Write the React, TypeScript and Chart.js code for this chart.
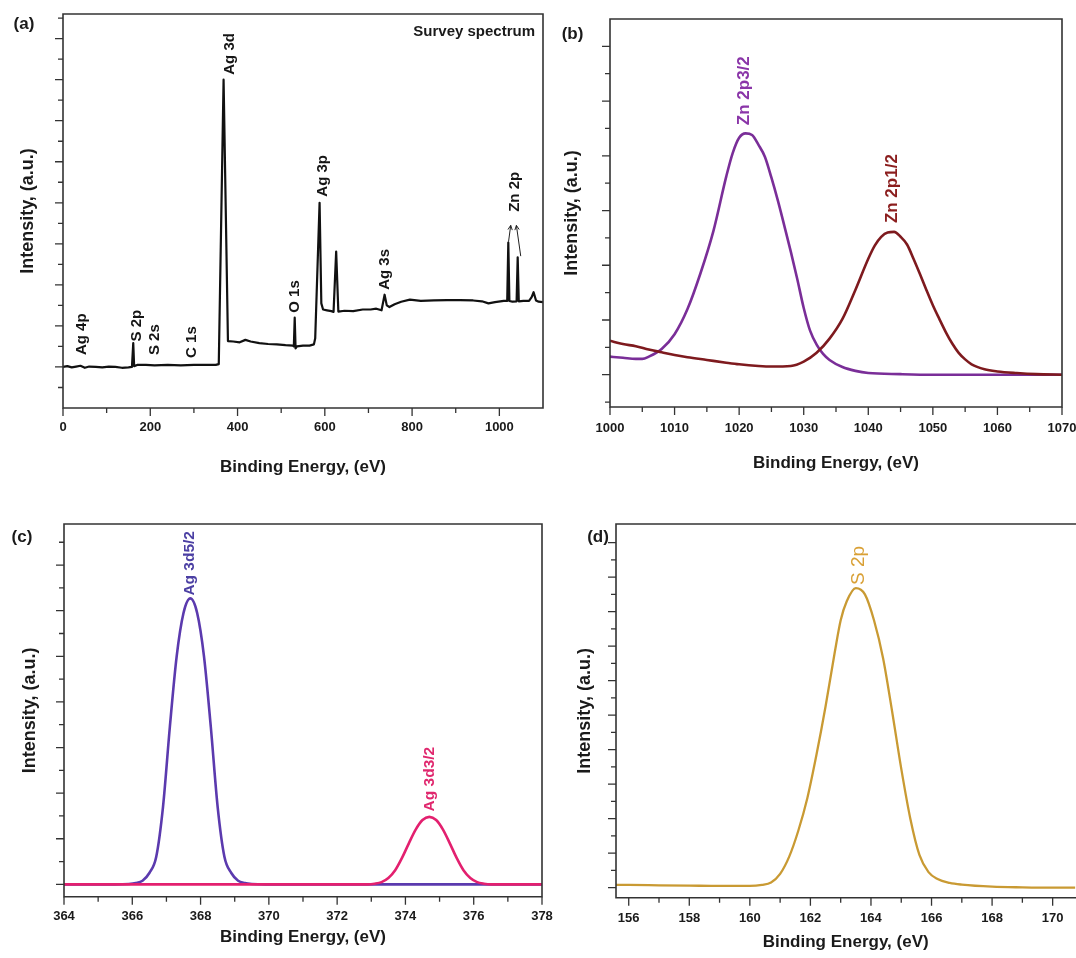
import React, { useEffect, useRef } from "react";
import { Chart, registerables } from "chart.js";

Chart.register(...registerables);

const FONT = "'Liberation Sans', Arial, Helvetica, sans-serif";
const INK = "#1a1a1a";
const AXIS = "#333333";

// ---------------- (a) survey spectrum ----------------
const surveyEnergy = [0, 10, 20, 30, 40, 50, 60, 75, 90, 105, 120, 135, 150, 158, 161, 163, 170, 190, 210, 240, 270, 300, 330, 350, 357, 368, 378, 390, 405, 418, 430, 450, 470, 490, 510, 527, 529, 531, 533, 536, 550, 565, 575, 578, 588, 592, 596, 605, 615, 620, 626, 631, 645, 665, 687, 705, 718, 730, 737, 742, 748, 760, 775, 795, 820, 850, 880, 910, 940, 960, 975, 990, 1010, 1018, 1020.5, 1023, 1030, 1039.5, 1042, 1044.5, 1055, 1068, 1074, 1078.5, 1084, 1090, 1100];
const surveyIntensity = [1.0, 1.02, 0.99, 1.01, 1.03, 0.98, 1.01, 1.0, 0.99, 1.01, 1.0, 0.98, 0.99, 1.0, 1.58, 1.02, 1.05, 1.05, 1.04, 1.05, 1.04, 1.05, 1.05, 1.05, 1.07, 8.0, 1.63, 1.62, 1.6, 1.66, 1.62, 1.58, 1.56, 1.55, 1.53, 1.52, 1.5, 2.2, 1.45, 1.5, 1.52, 1.52, 1.55, 1.7, 5.0, 2.55, 2.4, 2.38, 2.36, 2.34, 3.81, 2.35, 2.37, 2.36, 2.4, 2.4, 2.42, 2.38, 2.76, 2.5, 2.46, 2.53, 2.59, 2.64, 2.61, 2.62, 2.63, 2.63, 2.62, 2.6, 2.55, 2.58, 2.61, 2.61, 4.03, 2.61, 2.59, 2.6, 3.67, 2.6, 2.61, 2.61, 2.7, 2.82, 2.62, 2.59, 2.58];
const surveyXTicks = [0, 200, 400, 600, 800, 1000];
const surveyXMinor = [100, 300, 500, 700, 900];
const surveyYTicks = [1, 2, 3, 4, 5, 6, 7, 8, 9];
const surveyYMinor = [0.5, 1.5, 2.5, 3.5, 4.5, 5.5, 6.5, 7.5, 8.5, 9.5];
const surveyPeakNames = ["Ag 4p", "S 2p", "S 2s", "C 1s", "Ag 3d", "O 1s", "Ag 3p", "Ag 3s", "Zn 2p"];
const surveyPeakX = [43, 169, 210, 295, 382, 531, 595, 737, 1035];
const surveyPeakY = [1.29, 1.62, 1.29, 1.22, 8.12, 2.32, 5.15, 2.88, 4.78];
const znArrowFromX = [1021, 1049];
const znArrowFromY = [4.05, 3.7];
const znArrowToX = [1026, 1039];
const znArrowToY = [4.45, 4.45];

// ---------------- (b) Zn 2p ----------------
const zn2p3Energy = [1000, 1002, 1004, 1005, 1006, 1008, 1010, 1012, 1014, 1016, 1018, 1019, 1020, 1021, 1022, 1023, 1024, 1025, 1026, 1027, 1028, 1029, 1030, 1031, 1032, 1033, 1034, 1036, 1038, 1040, 1045, 1050, 1060, 1070];
const zn2p3Intensity = [0.33, 0.31, 0.29, 0.29, 0.33, 0.47, 0.74, 1.2, 1.85, 2.62, 3.62, 4.05, 4.33, 4.41, 4.38, 4.2, 3.98, 3.6, 3.18, 2.72, 2.25, 1.75, 1.22, 0.8, 0.55, 0.38, 0.27, 0.14, 0.07, 0.03, 0.01, 0.0, 0.0, 0.0];
const zn2p1Energy = [1000, 1002, 1004, 1006, 1008, 1010, 1012, 1015, 1018, 1020, 1023, 1025, 1028, 1030, 1032, 1034, 1036, 1038, 1040, 1041, 1042, 1043, 1044, 1045, 1046, 1047, 1048, 1049, 1050, 1051, 1052, 1053, 1054, 1055, 1056, 1058, 1060, 1063, 1066, 1070];
const zn2p1Intensity = [0.62, 0.56, 0.52, 0.46, 0.41, 0.36, 0.32, 0.27, 0.22, 0.19, 0.16, 0.15, 0.16, 0.24, 0.4, 0.66, 1.02, 1.55, 2.12, 2.36, 2.52, 2.6, 2.61, 2.52, 2.38, 2.12, 1.84, 1.55, 1.27, 1.02, 0.78, 0.57, 0.4, 0.28, 0.19, 0.1, 0.06, 0.03, 0.01, 0.0];
const znXTicks = [1000, 1010, 1020, 1030, 1040, 1050, 1060, 1070];
const znXMinor = [1005, 1015, 1025, 1035, 1045, 1055, 1065];
const znYTicks = [0, 1, 2, 3, 4, 5, 6];
const znYMinor = [-0.5, 0.5, 1.5, 2.5, 3.5, 4.5, 5.5];
const znPeakNames = ["Zn 2p3/2", "Zn 2p1/2"];
const znPeakX = [1020.75, 1043.7];
const znPeakY = [4.56, 2.77];

// ---------------- (c) Ag 3d ----------------
const ag3d5Energy = [364, 365.5, 365.9, 366.1, 366.3, 366.5, 366.7, 366.9, 367.1, 367.3, 367.5, 367.7, 367.9, 368.1, 368.3, 368.5, 368.7, 368.9, 369.1, 369.3, 369.5, 369.9, 378];
const ag3d5Intensity = [0, 0, 0.01, 0.03, 0.08, 0.25, 0.6, 1.7, 3.45, 5.0, 5.95, 6.27, 5.95, 5.0, 3.45, 1.7, 0.6, 0.25, 0.08, 0.03, 0.01, 0, 0];
const ag3d3Energy = [364, 372.9, 373.1, 373.3, 373.5, 373.7, 373.9, 374.1, 374.3, 374.5, 374.7, 374.9, 375.1, 375.3, 375.5, 375.7, 375.9, 376.1, 376.3, 376.5, 378];
const ag3d3Intensity = [0, 0, 0.015, 0.05, 0.14, 0.31, 0.58, 0.9, 1.2, 1.41, 1.48, 1.41, 1.2, 0.9, 0.58, 0.31, 0.14, 0.05, 0.015, 0, 0];
const agXTicks = [364, 366, 368, 370, 372, 374, 376, 378];
const agXMinor = [365, 367, 369, 371, 373, 375, 377];
const agYTicks = [0, 1, 2, 3, 4, 5, 6, 7];
const agYMinor = [0.5, 1.5, 2.5, 3.5, 4.5, 5.5, 6.5, 7.5];
const agPeakNames = ["Ag 3d5/2", "Ag 3d3/2"];
const agPeakX = [367.68, 374.71];
const agPeakY = [6.33, 1.6];

// ---------------- (d) S 2p ----------------
const s2pEnergy = [155.58, 156, 157, 158, 159, 160, 160.4, 160.7, 161.0, 161.3, 161.6, 161.9, 162.2, 162.5, 162.8, 163.0, 163.2, 163.5, 163.8, 164.1, 164.4, 164.7, 165.0, 165.3, 165.6, 165.9, 166.2, 166.6, 167.0, 168, 169, 170, 170.75];
const s2pIntensity = [0.08, 0.08, 0.07, 0.06, 0.05, 0.05, 0.08, 0.15, 0.4, 0.9, 1.65, 2.6, 3.85, 5.25, 6.8, 7.75, 8.3, 8.68, 8.5, 7.75, 6.65, 5.1, 3.45, 2.0, 0.95, 0.45, 0.25, 0.14, 0.09, 0.03, 0.01, 0.0, 0.0];
const sXTicks = [156, 158, 160, 162, 164, 166, 168, 170];
const sXMinor = [157, 159, 161, 163, 165, 167, 169];
const sYTicks = [0, 1, 2, 3, 4, 5, 6, 7, 8, 9, 10];
const sYMinor = [0.5, 1.5, 2.5, 3.5, 4.5, 5.5, 6.5, 7.5, 8.5, 9.5];
const sPeakNames = ["S 2p"];
const sPeakX = [163.6];
const sPeakY = [8.77];

type Series = { x: number[]; y: number[]; color: string; width: number; smooth: boolean };
type PeakLabel = { text: string; x: number; y: number; color: string; font: string };
type Spec = {
  left: number; top: number; w: number; h: number;
  padding: { left: number; top: number; right: number; bottom: number };
  yWidth: number; xHeight: number;
  xMin: number; xMax: number; yMin: number; yMax: number;
  xTicks: number[]; xMinor: number[]; yTicks: number[]; yMinor: number[];
  xTickPad: number; xTitlePad: number; yTitlePad: number;
  series: Series[];
  labels: PeakLabel[];
  letter: string; letterX: number; letterY: number;
  frameTop: boolean; frameRight: boolean;
  arrows?: { x1: number; y1: number; x2: number; y2: number }[];
  note?: string;
};

const mkLabels = (names: string[], xs: number[], ys: number[], colors: string[], font: string): PeakLabel[] =>
  names.map((t, i) => ({ text: t, x: xs[i], y: ys[i], color: colors[i % colors.length], font }));

const specs: Spec[] = [
  {
    left: 0, top: 0, w: 550, h: 480,
    padding: { left: 0, top: 14, right: 7, bottom: 0 },
    yWidth: 63, xHeight: 72,
    xMin: 0, xMax: 1100, yMin: 0, yMax: 9.6,
    xTicks: surveyXTicks, xMinor: surveyXMinor, yTicks: surveyYTicks, yMinor: surveyYMinor,
    xTickPad: 11.2, xTitlePad: 2.8, yTitlePad: 17.5,
    series: [{ x: surveyEnergy, y: surveyIntensity, color: "#111111", width: 2.2, smooth: false }],
    labels: mkLabels(surveyPeakNames, surveyPeakX, surveyPeakY, ["#151515"], `bold 15px ${FONT}`),
    letter: "(a)", letterX: 24, letterY: 24,
    frameTop: true, frameRight: true,
    arrows: znArrowFromX.map((x1, i) => ({ x1, y1: znArrowFromY[i], x2: znArrowToX[i], y2: znArrowToY[i] })),
    note: "Survey spectrum",
  },
  {
    left: 550, top: 0, w: 540, h: 480,
    padding: { left: 0, top: 19, right: 28, bottom: 0 },
    yWidth: 60, xHeight: 73,
    xMin: 1000, xMax: 1070, yMin: -0.59, yMax: 6.5,
    xTicks: znXTicks, xMinor: znXMinor, yTicks: znYTicks, yMinor: znYMinor,
    xTickPad: 13.2, xTitlePad: 6.8, yTitlePad: 11.2,
    series: [
      { x: zn2p1Energy, y: zn2p1Intensity, color: "#7E1A1E", width: 2.6, smooth: true },
      { x: zn2p3Energy, y: zn2p3Intensity, color: "#7A2E98", width: 2.6, smooth: true },
    ],
    labels: mkLabels(znPeakNames, znPeakX, znPeakY, ["#8A35A8", "#8B1E1E"], `bold 17px ${FONT}`),
    letter: "(b)", letterX: 22.5, letterY: 34,
    frameTop: true, frameRight: true,
  },
  {
    left: 0, top: 490, w: 584, h: 468,
    padding: { left: 0, top: 34, right: 42, bottom: 0 },
    yWidth: 64, xHeight: 61.3,
    xMin: 364, xMax: 378, yMin: -0.27, yMax: 7.9,
    xTicks: agXTicks, xMinor: agXMinor, yTicks: agYTicks, yMinor: agYMinor,
    xTickPad: 12.2, xTitlePad: 10.8, yTitlePad: 19.2,
    series: [
      { x: ag3d3Energy, y: ag3d3Intensity, color: "#E3206F", width: 2.6, smooth: true },
      { x: ag3d5Energy, y: ag3d5Intensity, color: "#5B3AAE", width: 2.6, smooth: true },
    ],
    labels: mkLabels(agPeakNames, agPeakX, agPeakY, ["#4B3FA3", "#E0286E"], `bold 15.5px ${FONT}`),
    letter: "(c)", letterX: 22, letterY: 47,
    frameTop: true, frameRight: true,
  },
  {
    left: 562, top: 490, w: 514, h: 468,
    padding: { left: 0, top: 34, right: 0, bottom: 0 },
    yWidth: 54, xHeight: 60.3,
    xMin: 155.58, xMax: 170.75, yMin: -0.29, yMax: 10.54,
    xTicks: sXTicks, xMinor: sXMinor, yTicks: sYTicks, yMinor: sYMinor,
    xTickPad: 12.5, xTitlePad: 5.8, yTitlePad: 12.2,
    series: [{ x: s2pEnergy, y: s2pIntensity, color: "#C99A33", width: 2.3, smooth: true }],
    labels: mkLabels(sPeakNames, sPeakX, sPeakY, ["#D9A035"], `19px ${FONT}`),
    letter: "(d)", letterX: 36, letterY: 47,
    frameTop: true, frameRight: false,
  },
];

function decorPlugin(s: Spec) {
  return {
    id: "decor",
    afterDraw(chart: any) {
      const { ctx, chartArea: a, scales } = chart;
      const x = scales.x;
      const y = scales.y;
      ctx.save();
      // frame
      ctx.strokeStyle = AXIS;
      ctx.lineWidth = 1.6;
      ctx.lineCap = "square";
      ctx.beginPath();
      ctx.moveTo(a.left, a.top);
      ctx.lineTo(a.left, a.bottom);
      ctx.lineTo(a.right + (s.frameRight ? 0 : 2), a.bottom);
      if (s.frameTop) {
        ctx.moveTo(a.left, a.top);
        ctx.lineTo(a.right + (s.frameRight ? 0 : 2), a.top);
      }
      if (s.frameRight) {
        ctx.moveTo(a.right, a.top);
        ctx.lineTo(a.right, a.bottom);
      }
      ctx.stroke();
      // ticks
      ctx.lineWidth = 1.3;
      ctx.lineCap = "butt";
      ctx.beginPath();
      const xt = (vals: number[], len: number) =>
        vals.forEach((v) => {
          const p = x.getPixelForValue(v);
          ctx.moveTo(p, a.bottom);
          ctx.lineTo(p, a.bottom + len);
        });
      const yt = (vals: number[], len: number) =>
        vals.forEach((v) => {
          const p = y.getPixelForValue(v);
          ctx.moveTo(a.left, p);
          ctx.lineTo(a.left - len, p);
        });
      xt(s.xTicks, 8);
      xt(s.xMinor, 5);
      yt(s.yTicks, 8);
      yt(s.yMinor, 5);
      ctx.stroke();
      // arrows
      if (s.arrows) {
        ctx.strokeStyle = "#222";
        ctx.lineWidth = 1;
        s.arrows.forEach((ar) => {
          const x1 = x.getPixelForValue(ar.x1), y1 = y.getPixelForValue(ar.y1);
          const x2 = x.getPixelForValue(ar.x2), y2 = y.getPixelForValue(ar.y2);
          const ang = Math.atan2(y2 - y1, x2 - x1);
          ctx.beginPath();
          ctx.moveTo(x1, y1);
          ctx.lineTo(x2, y2);
          ctx.moveTo(x2 - 5 * Math.cos(ang - 0.45), y2 - 5 * Math.sin(ang - 0.45));
          ctx.lineTo(x2, y2);
          ctx.lineTo(x2 - 5 * Math.cos(ang + 0.45), y2 - 5 * Math.sin(ang + 0.45));
          ctx.stroke();
        });
      }
      // peak labels
      s.labels.forEach((l) => {
        const px = x.getPixelForValue(l.x);
        const py = y.getPixelForValue(l.y);
        ctx.save();
        ctx.translate(px, py);
        ctx.rotate(-Math.PI / 2);
        ctx.font = l.font;
        ctx.fillStyle = l.color;
        ctx.textAlign = "left";
        ctx.textBaseline = "middle";
        ctx.fillText(l.text, 0, 0);
        ctx.restore();
      });
      // panel letter
      ctx.font = `bold 17px ${FONT}`;
      ctx.fillStyle = INK;
      ctx.textAlign = "center";
      ctx.textBaseline = "middle";
      ctx.fillText(s.letter, s.letterX, s.letterY);
      if (s.note) {
        ctx.font = `bold 15px ${FONT}`;
        ctx.textAlign = "right";
        ctx.fillText(s.note, a.right - 8, a.top + 18);
      }
      ctx.restore();
    },
  };
}

function buildConfig(s: Spec): any {
  const tickFont = { family: FONT, size: 13, weight: "bold" };
  return {
    type: "line",
    data: {
      datasets: s.series.map((se) => ({
        data: se.x.map((xv, i) => ({ x: xv, y: se.y[i] })),
        borderColor: se.color,
        borderWidth: se.width,
        pointRadius: 0,
        pointHoverRadius: 0,
        fill: false,
        tension: se.smooth ? 0.4 : 0,
        cubicInterpolationMode: se.smooth ? "monotone" : "default",
        borderJoinStyle: "round",
      })),
    },
    options: {
      responsive: false,
      animation: false,
      events: [],
      layout: { padding: s.padding },
      plugins: { legend: { display: false }, tooltip: { enabled: false }, title: { display: false } },
      scales: {
        x: {
          type: "linear",
          bounds: "data",
          min: s.xMin,
          max: s.xMax,
          grid: { display: false, drawTicks: false },
          border: { display: false },
          ticks: {
            padding: s.xTickPad,
            font: tickFont,
            color: INK,
            maxRotation: 0,
            minRotation: 0,
            autoSkip: false,
            callback: (v: any) => String(v),
          },
          afterBuildTicks: (sc: any) => {
            sc.ticks = s.xTicks.map((v) => ({ value: v }));
          },
          afterFit: (sc: any) => {
            sc.height = s.xHeight;
          },
          title: {
            display: true,
            text: "Binding Energy, (eV)",
            font: { family: FONT, size: 17, weight: "bold" },
            color: INK,
            padding: { top: 0, bottom: s.xTitlePad },
          },
        },
        y: {
          type: "linear",
          bounds: "data",
          min: s.yMin,
          max: s.yMax,
          grid: { display: false, drawTicks: false },
          border: { display: false },
          ticks: { display: false },
          afterFit: (sc: any) => {
            sc.width = s.yWidth;
          },
          title: {
            display: true,
            text: "Intensity, (a.u.)",
            font: { family: FONT, size: 18, weight: "bold" },
            color: INK,
            padding: { top: s.yTitlePad, bottom: 0 },
          },
        },
      },
    },
    plugins: [decorPlugin(s)],
  };
}

function Panel({ spec }: { spec: Spec }) {
  const ref = useRef<HTMLCanvasElement>(null);
  useEffect(() => {
    if (!ref.current) return;
    const chart = new Chart(ref.current, buildConfig(spec));
    return () => chart.destroy();
  }, [spec]);
  return (
    <canvas
      ref={ref}
      width={spec.w}
      height={spec.h}
      style={{ position: "absolute", left: spec.left, top: spec.top, width: spec.w, height: spec.h }}
    />
  );
}

export default function App() {
  return (
    <div
      style={{
        position: "absolute",
        left: 0,
        top: 0,
        width: 1076,
        height: 958,
        overflow: "hidden",
        background: "#ffffff",
      }}
    >
      {specs.map((s) => (
        <Panel key={s.letter} spec={s} />
      ))}
    </div>
  );
}
